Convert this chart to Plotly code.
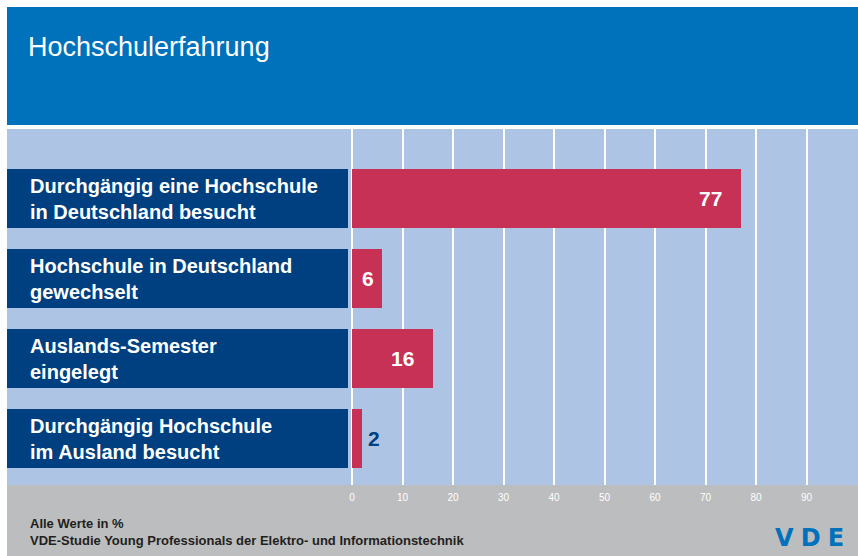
import plotly.graph_objects as go

# ---- data ----
categories = [
    "Durchgängig eine Hochschule<br>in Deutschland besucht",
    "Hochschule in Deutschland<br>gewechselt",
    "Auslands-Semester<br>eingelegt",
    "Durchgängig Hochschule<br>im Ausland besucht",
]
values = [77, 6, 16, 2]
tick_values = [0, 10, 20, 30, 40, 50, 60, 70, 80, 90]
tick_labels = ["0", "10", "20", "30", "40", "50", "60", "70", "80", "90"]
title_text = "Hochschulerfahrung"
footer_lines = ["Alle Werte in %", "VDE-Studie Young Professionals der Elektro- und Informationstechnik"]

# ---- styling ----
W, H = 858, 556
HEADER_BLUE = "#0071BB"
PLOT_BG = "#AEC4E4"
NAVY = "#003F80"
CRIMSON = "#C83156"
FOOTER_GRAY = "#BCBDBF"
SANS = "Liberation Sans, Arial, sans-serif"

px_per_unit = 5.05
zero_px = 352
left_px, right_px = 7, 858
x_min = (left_px - zero_px) / px_per_unit
x_max = (right_px - zero_px) / px_per_unit
box_end = (348 - zero_px) / px_per_unit

plot_top_px, plot_bot_px = 129, 485
y_idx = list(range(len(categories)))
bar_width = 59 / 80
first_center_px = 198.5
y_top = -(first_center_px - plot_top_px) / 80
y_bot = (len(categories) - 1) + (plot_bot_px - (first_center_px + 80 * (len(categories) - 1))) / 80

fig = go.Figure()

# label boxes
fig.add_trace(go.Bar(
    y=y_idx, x=[box_end - x_min] * len(categories), base=x_min,
    orientation="h", width=bar_width, marker=dict(color=NAVY, line=dict(width=0)),
    hoverinfo="skip", showlegend=False,
))
# value bars
fig.add_trace(go.Bar(
    y=y_idx, x=values, orientation="h", width=bar_width,
    marker=dict(color=CRIMSON, line=dict(width=0)),
    showlegend=False,
))

annotations = []
for i, (cat, v) in enumerate(zip(categories, values)):
    annotations.append(dict(
        x=28 / W, xref="paper", y=i, yref="y", text=f"<b>{cat}</b>",
        xanchor="left", yanchor="middle", align="left", showarrow=False,
        font=dict(family=SANS, size=20, color="white"),
    ))
    if v < 3:
        annotations.append(dict(x=v, y=i, xref="x", yref="y", text=f"<b>{v}</b>",
                                xanchor="left", xshift=4, yanchor="middle", showarrow=False,
                                font=dict(family=SANS, size=21, color=NAVY)))
    elif v < 10:
        annotations.append(dict(x=v / 2, y=i, xref="x", yref="y", text=f"<b>{v}</b>",
                                xanchor="center", xshift=1, yanchor="middle", showarrow=False,
                                font=dict(family=SANS, size=21, color="white")))
    else:
        annotations.append(dict(x=v, y=i, xref="x", yref="y", text=f"<b>{v}</b>",
                                xanchor="right", xshift=-17, yanchor="middle", showarrow=False,
                                font=dict(family=SANS, size=21, color="white")))

# title
annotations.append(dict(x=26 / W, y=(H - 47) / H, xref="paper", yref="paper", text=title_text,
                        xanchor="left", yanchor="middle", showarrow=False,
                        font=dict(family=SANS, size=27, color="white")))
# footer
annotations.append(dict(x=28 / W, y=(H - 532) / H, xref="paper", yref="paper",
                        text="<b>" + "<br>".join(footer_lines) + "</b>",
                        xanchor="left", yanchor="middle", align="left", showarrow=False,
                        font=dict(family=SANS, size=13, color="#231F20")))
# logo
annotations.append(dict(x=846 / W, y=(H - 538) / H, xref="paper", yref="paper",
                        text="<b>V\u2009\u200aD\u2009\u200aE</b>",
                        xanchor="right", yanchor="middle", showarrow=False,
                        font=dict(family="DejaVu Sans, Verdana, sans-serif", size=24, color="#0071BB")))

shapes = [
    dict(type="rect", xref="paper", yref="paper", x0=left_px / W, x1=1,
         y0=(H - 125) / H, y1=(H - 7) / H, fillcolor=HEADER_BLUE, line=dict(width=0), layer="below"),
    dict(type="rect", xref="paper", yref="paper", x0=left_px / W, x1=1,
         y0=0, y1=(H - plot_bot_px) / H, fillcolor=FOOTER_GRAY, line=dict(width=0), layer="below"),
]

fig.update_layout(
    width=W, height=H,
    margin=dict(l=0, r=0, t=0, b=0),
    paper_bgcolor="white", plot_bgcolor=PLOT_BG,
    barmode="overlay", bargap=0,
    shapes=shapes, annotations=annotations,
    xaxis=dict(
        domain=[left_px / W, right_px / W], range=[x_min, x_max],
        tickvals=tick_values, ticktext=tick_labels,
        showgrid=True, gridcolor="white", gridwidth=1.8,
        zeroline=False, showline=False, ticks="", ticklabelstandoff=5,
        tickfont=dict(family=SANS, size=10, color="white"),
        fixedrange=True,
    ),
    yaxis=dict(
        domain=[(H - plot_bot_px) / H, (H - plot_top_px) / H],
        range=[y_bot, y_top], showgrid=False, zeroline=False, showticklabels=False,
        ticks="", fixedrange=True,
    ),
)

fig.write_html(
    "out.html",
    config={"displayModeBar": False},
    post_script="document.body.style.margin='0';document.body.style.overflow='hidden';",
)
